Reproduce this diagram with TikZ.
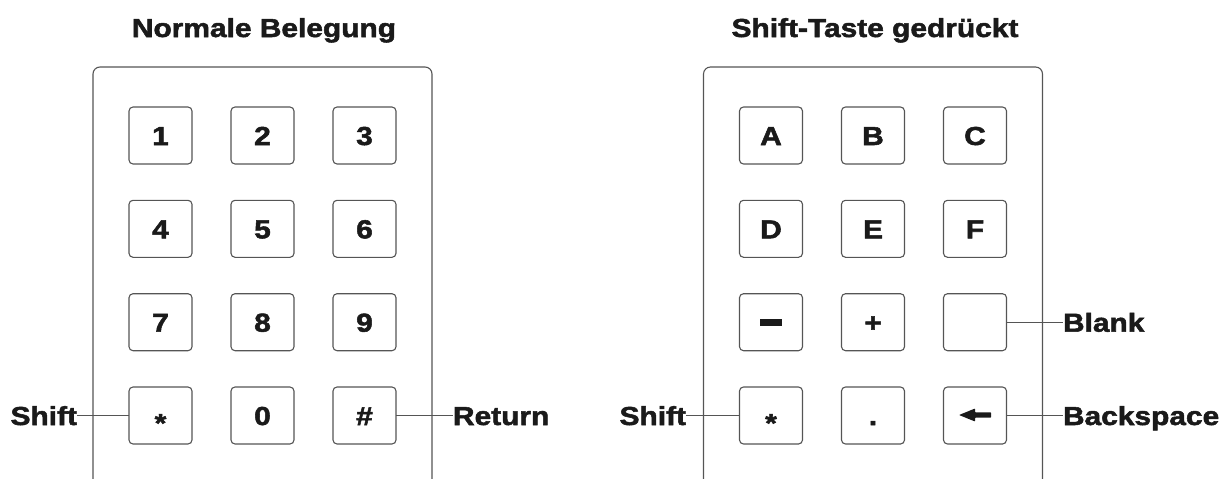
\documentclass[tikz,border=0pt]{standalone}
\usepackage{fontspec}
\newfontfamily\keyfont[FakeStretch=1.15,FakeBold=2]{Liberation Sans Bold}
\definecolor{ink}{HTML}{1A1A1A}
\definecolor{rim}{HTML}{555555}
\begin{document}
\begin{tikzpicture}[x=1pt,y=-1pt,
  every node/.style={inner sep=0pt, outer sep=0pt},
  txt/.style={font=\keyfont\fontsize{26}{30}\selectfont, text=ink,
              text height=19pt, text depth=0pt},
  keybox/.style={txt, draw=rim, line width=1.1pt, rounded corners=4pt,
                 minimum width=63pt, minimum height=57pt},
  panel/.style={draw=rim, line width=1.1pt, rounded corners=7pt},
  lead/.style={draw=rim, line width=1pt},
  glyph/.style={fill=ink}]
\useasboundingbox (0,0) rectangle (1229,479);

% headings
\node[txt, anchor=base, text height=, text depth=] (t1) at (264,37) {Normale Belegung};
\node[txt, anchor=base, text height=, text depth=] (t2) at (875,37) {Shift-Taste gedrückt};

% keypad housings, open at the bottom
\draw[panel] (93,479) -- (93,67) -- (432,67) -- (432,479);
\draw[panel] (703.5,479) -- (703.5,67) -- (1042.5,67) -- (1042.5,479);

% normal layout
\node[keybox] (n1) at (160.5,135.5) {1};
\node[keybox] (n2) at (262.5,135.5) {2};
\node[keybox] (n3) at (364.5,135.5) {3};
\node[keybox] (n4) at (160.5,228.8) {4};
\node[keybox] (n5) at (262.5,228.8) {5};
\node[keybox] (n6) at (364.5,228.8) {6};
\node[keybox] (n7) at (160.5,322.2) {7};
\node[keybox] (n8) at (262.5,322.2) {8};
\node[keybox] (n9) at (364.5,322.2) {9};
\node[keybox] (nstar) at (160.5,415.5) {\raisebox{-7pt}{*}};
\node[keybox] (n0) at (262.5,415.5) {0};
\node[keybox] (nhash) at (364.5,415.5) {\#};

% shifted layout
\node[keybox] (sA) at (771,135.5) {A};
\node[keybox] (sB) at (873,135.5) {B};
\node[keybox] (sC) at (975,135.5) {C};
\node[keybox] (sD) at (771,228.8) {D};
\node[keybox] (sE) at (873,228.8) {E};
\node[keybox] (sF) at (975,228.8) {F};
\node[keybox] (sminus) at (771,322.2) {};
\node[keybox] (splus) at (873,322.2) {+};
\node[keybox] (sblank) at (975,322.2) {};
\node[keybox] (sstar) at (771,415.5) {\raisebox{-7pt}{*}};
\node[keybox] (sdot) at (873,415.5) {.};
\node[keybox] (sback) at (975,415.5) {};

% minus bar and backspace arrow
\fill[glyph, shift={(sminus.center)}] (-11,-3.5) rectangle (11,3.5);
\fill[glyph, shift={(sback.center)}, rounded corners=0.6pt]
  (-16,-0.5) -- (0,-7) -- (0,-3.2) -- (16,-3.2) -- (16,2.2) -- (0,2.2) -- (0,6) -- cycle;

% callouts
\node[txt, anchor=east] (lshift) at (77,415.5) {Shift};
\node[txt, anchor=west] (lret) at (453,415.5) {Return};
\node[txt, anchor=east] (rshift) at (686,415.5) {Shift};
\node[txt, anchor=west] (rblank) at (1063,322.2) {Blank};
\node[txt, anchor=west] (rback) at (1063,415.5) {Backspace};

\draw[lead] (nstar.west) -- (lshift.east);
\draw[lead] (nhash.east) -- (lret.west);
\draw[lead] (sstar.west) -- (rshift.east);
\draw[lead] (sblank.east) -- (rblank.west);
\draw[lead] (sback.east) -- (rback.west);
\end{tikzpicture}
\end{document}
